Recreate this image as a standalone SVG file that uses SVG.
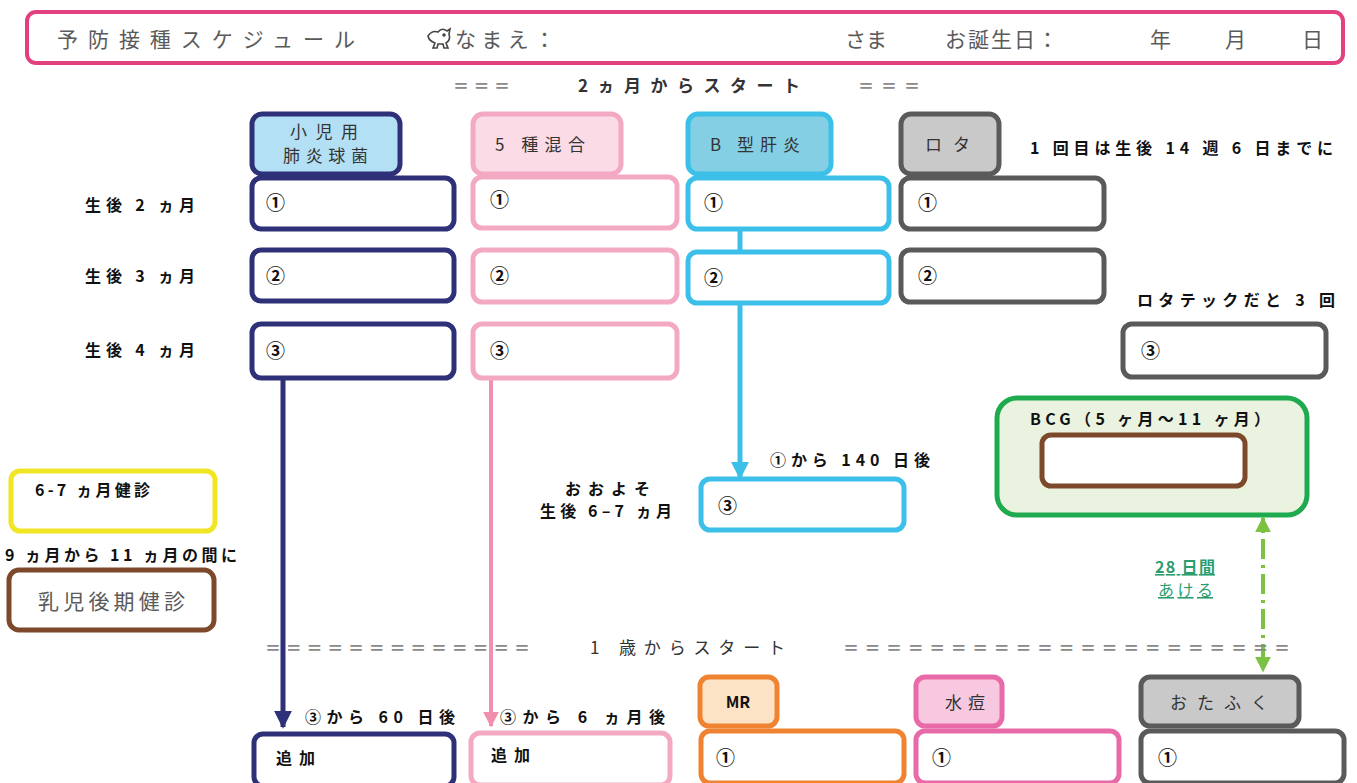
<svg xmlns="http://www.w3.org/2000/svg" width="1357" height="783" viewBox="0 0 1357 783">
<style>
text{font-family:"Noto Sans CJK JP","Liberation Sans",sans-serif;}
.hd{font-size:21px;fill:#5a5a5a;}
.eq{font-size:16px;fill:#8a8a8a;font-weight:bold;}
.st{font-size:17px;fill:#333;}
.b{font-size:16px;font-weight:bold;fill:#111;}
.n{font-size:19px;font-weight:bold;fill:#111;}
.tab{font-size:17px;fill:#333;}
.box{fill:#fff;stroke-width:5;}
.c1{stroke:#2e3078;}
.c2{stroke:#f3a9c4;}
.c3{stroke:#3cbfe9;}
.c4{stroke:#5a5a5a;}
.c5{stroke:#f08332;}
.c6{stroke:#e86aa8;}
</style>
<defs>
<marker id="aN" viewBox="0 0 10 10" refX="9" refY="5" markerWidth="3.6" markerHeight="3.6" orient="auto"><path d="M0,0L10,5L0,10z" fill="#2e3078"/></marker>
<marker id="aP" viewBox="0 0 10 10" refX="9" refY="5" markerWidth="4" markerHeight="4" orient="auto"><path d="M0,0L10,5L0,10z" fill="#f08fae"/></marker>
<marker id="aB" viewBox="0 0 10 10" refX="9" refY="5" markerWidth="3.6" markerHeight="3.6" orient="auto"><path d="M0,0L10,5L0,10z" fill="#3cbfe9"/></marker>
<marker id="aG" viewBox="0 0 10 10" refX="9" refY="5" markerWidth="4" markerHeight="4" orient="auto"><path d="M0,0L10,5L0,10z" fill="#7cc242"/></marker>
</defs>
<rect width="1357" height="783" fill="#fff"/>

<g id="header">
<rect x="27" y="12" width="1316" height="51" rx="9" fill="#fff" stroke="#e2407f" stroke-width="4"/>
<text class="hd" x="57" y="47" font-size="25" textLength="298" lengthAdjust="spacing">予防接種スケジュール</text>
<g fill="none" stroke="#444" stroke-width="1.6">
<path d="M428,36 q4,-6 10,-4 q4,-5 9,-1 l3,-2 l-1,5 q2,6 -3,9 l2,5 h-4 l-1,-4 h-5 l-1,4 h-4 l2,-5 q-6,-2 -7,-7z"/>
<circle cx="444" cy="35" r="1" fill="#444"/>
</g>
<text class="hd" x="455" y="47" textLength="100" lengthAdjust="spacing">なまえ：</text>
<text class="hd" x="845" y="47" textLength="42" lengthAdjust="spacing">さま</text>
<text class="hd" x="945" y="47" textLength="113" lengthAdjust="spacing">お誕生日：</text>
<text class="hd" x="1150" y="47">年</text>
<text class="hd" x="1225" y="47">月</text>
<text class="hd" x="1302" y="47">日</text>
</g>

<g id="section1">
<text class="eq" x="453" y="92" textLength="57" lengthAdjust="spacing">＝＝＝</text>
<text class="st" x="578" y="92" font-weight="bold" textLength="222" lengthAdjust="spacing">2ヵ月からスタート</text>
<text class="eq" x="858" y="92" textLength="62" lengthAdjust="spacing">＝＝＝</text>
</g>

<g id="connectors" fill="none">
<line x1="283" y1="378" x2="283" y2="727" stroke="#2e3078" stroke-width="5" marker-end="url(#aN)"/>
<line x1="491" y1="378" x2="491" y2="726" stroke="#f08fae" stroke-width="4" marker-end="url(#aP)"/>
<line x1="740" y1="229" x2="740" y2="250" stroke="#3cbfe9" stroke-width="5"/>
<line x1="740" y1="303" x2="740" y2="478" stroke="#3cbfe9" stroke-width="5" marker-end="url(#aB)"/>
<line x1="1263" y1="664" x2="1263" y2="518" stroke="#7cc242" stroke-width="4" stroke-dasharray="20 6 3 6" marker-end="url(#aG)"/>
<line x1="1263" y1="530" x2="1263" y2="671" stroke="#7cc242" stroke-width="4" stroke-opacity="0" marker-end="url(#aG)"/>
</g>

<g id="pcv">
<rect class="box c1" x="252" y="114" width="148" height="60" rx="10" style="fill:#b3e0f5"/>
<text class="tab" x="290" y="138" font-size="16" textLength="68" lengthAdjust="spacing">小児用</text>
<text class="tab" x="283" y="162" font-size="16" textLength="85" lengthAdjust="spacing">肺炎球菌</text>
<rect class="box c1" x="252" y="178" width="202" height="51" rx="9"/>
<text class="n" x="266" y="210">①</text>
<rect class="box c1" x="252" y="250" width="202" height="51" rx="9"/>
<text class="n" x="266" y="283">②</text>
<rect class="box c1" x="252" y="324" width="202" height="54" rx="9"/>
<text class="n" x="266" y="358">③</text>
</g>

<g id="dtp">
<rect class="box c2" x="473" y="114" width="148" height="60" rx="10" style="fill:#fadbe6"/>
<text class="tab" x="495" y="151" textLength="90" lengthAdjust="spacing">5 種混合</text>
<rect class="box c2" x="473" y="177" width="204" height="51" rx="9"/>
<text class="n" x="490" y="207">①</text>
<rect class="box c2" x="473" y="250" width="204" height="52" rx="9"/>
<text class="n" x="490" y="283">②</text>
<rect class="box c2" x="473" y="324" width="204" height="54" rx="9"/>
<text class="n" x="490" y="358">③</text>
</g>

<g id="hepb">
<rect class="box c3" x="688" y="114" width="143" height="60" rx="10" style="fill:#84cfe3"/>
<text class="tab" x="710" y="151" textLength="90" lengthAdjust="spacing">B 型肝炎</text>
<rect class="box c3" x="688" y="178" width="201" height="51" rx="9"/>
<text class="n" x="704" y="210">①</text>
<rect class="box c3" x="688" y="252" width="201" height="51" rx="9"/>
<text class="n" x="704" y="285">②</text>
<rect class="box c3" x="701" y="479" width="203" height="51" rx="9"/>
<text class="n" x="718" y="513">③</text>
<text class="b" x="770" y="466" textLength="160" lengthAdjust="spacing">①から 140 日後</text>
<text class="b" x="565" y="495" font-size="15" textLength="85" lengthAdjust="spacing">おおよそ</text>
<text class="b" x="540" y="517" font-size="15" textLength="132" lengthAdjust="spacing">生後 6–7 ヵ月</text>
</g>

<g id="rota">
<rect class="box c4" x="901" y="114" width="98" height="60" rx="10" style="fill:#c9c9c9"/>
<text class="tab" x="925" y="151" textLength="45" lengthAdjust="spacing">ロタ</text>
<text class="b" x="1030" y="154" font-size="17" textLength="303" lengthAdjust="spacing">1 回目は生後 14 週 6 日までに</text>
<rect class="box c4" x="901" y="178" width="203" height="51" rx="9"/>
<text class="n" x="918" y="210">①</text>
<rect class="box c4" x="901" y="250" width="203" height="52" rx="9"/>
<text class="n" x="918" y="283">②</text>
<text class="b" x="1137" y="306" font-size="17" textLength="198" lengthAdjust="spacing">ロタテックだと 3 回</text>
<rect class="box c4" x="1123" y="324" width="203" height="53" rx="9"/>
<text class="n" x="1141" y="358">③</text>
</g>

<g id="rowlabels">
<text class="b" x="85" y="211" textLength="110" lengthAdjust="spacing">生後 2 ヵ月</text>
<text class="b" x="85" y="282" textLength="110" lengthAdjust="spacing">生後 3 ヵ月</text>
<text class="b" x="85" y="356" textLength="110" lengthAdjust="spacing">生後 4 ヵ月</text>
</g>

<g id="bcg">
<rect x="997" y="398" width="310" height="117" rx="20" fill="#eaf2e0" stroke="#1faa4f" stroke-width="5"/>
<text class="b" x="1030" y="425" textLength="240" lengthAdjust="spacing">BCG（5 ヶ月〜11 ヶ月）</text>
<rect x="1042" y="435" width="203" height="51" rx="9" fill="#fff" stroke="#7c4a2a" stroke-width="5"/>
</g>

<g id="checkup67">
<rect x="11" y="471" width="204" height="60" rx="9" fill="#fff" stroke="#f1e626" stroke-width="5"/>
<text class="b" x="35" y="496" font-size="14" textLength="115" lengthAdjust="spacing">6-7 ヵ月健診</text>
</g>

<g id="checkup911">
<text class="b" x="5" y="561" font-size="14" textLength="232" lengthAdjust="spacing">9 ヵ月から 11 ヵ月の間に</text>
<rect x="9" y="570" width="205" height="60" rx="10" fill="#fff" stroke="#7c4a2a" stroke-width="5"/>
<text class="hd" x="38" y="609" font-size="20" textLength="147" lengthAdjust="spacing">乳児後期健診</text>
</g>

<g id="interval">
<text x="1155" y="573" font-size="16" font-weight="bold" fill="#2c9d6e" text-decoration="underline" textLength="60" lengthAdjust="spacing">28 日間</text>
<text x="1158" y="596" font-size="16" fill="#2c9d6e" text-decoration="underline" textLength="55" lengthAdjust="spacing">あける</text>
</g>

<g id="section2">
<text class="eq" x="265" y="654" textLength="265" lengthAdjust="spacing">＝＝＝＝＝＝＝＝＝＝＝＝＝</text>
<text class="st" x="590" y="654" textLength="195" lengthAdjust="spacing">1 歳からスタート</text>
<text class="eq" x="843" y="654" textLength="447" lengthAdjust="spacing">＝＝＝＝＝＝＝＝＝＝＝＝＝＝＝＝＝＝＝＝＝</text>
</g>

<g id="pcv-booster">
<text class="b" x="305" y="723" font-size="17" textLength="150" lengthAdjust="spacing">③から 60 日後</text>
<rect class="box c1" x="254" y="734" width="200" height="52" rx="9"/>
<text class="b" x="276" y="764" font-size="15" textLength="39" lengthAdjust="spacing">追加</text>
</g>

<g id="dtp-booster">
<text class="b" x="500" y="723" font-size="17" textLength="165" lengthAdjust="spacing">③から 6 ヵ月後</text>
<rect class="box c2" x="471" y="733" width="199" height="52" rx="9"/>
<text class="b" x="491" y="761" font-size="15" textLength="39" lengthAdjust="spacing">追加</text>
</g>

<g id="mr">
<rect class="box c5" x="700" y="677" width="77" height="49" rx="9" style="fill:#fde3c6"/>
<text class="b" x="738" y="708" text-anchor="middle" fill="#333">MR</text>
<rect class="box c5" x="701" y="731" width="203" height="52" rx="9"/>
<text class="n" x="716" y="765">①</text>
</g>

<g id="varicella">
<rect class="box c6" x="916" y="677" width="86" height="49" rx="9" style="fill:#f7c8df"/>
<text class="tab" x="945" y="709" textLength="40" lengthAdjust="spacing">水痘</text>
<rect class="box c6" x="916" y="731" width="203" height="52" rx="9"/>
<text class="n" x="932" y="765">①</text>
</g>

<g id="mumps">
<rect class="box c4" x="1141" y="677" width="158" height="49" rx="9" style="fill:#c9c9c9"/>
<text class="tab" x="1170" y="709" textLength="98" lengthAdjust="spacing">おたふく</text>
<rect class="box c4" x="1141" y="731" width="203" height="52" rx="9"/>
<text class="n" x="1158" y="765">①</text>
</g>
</svg>
